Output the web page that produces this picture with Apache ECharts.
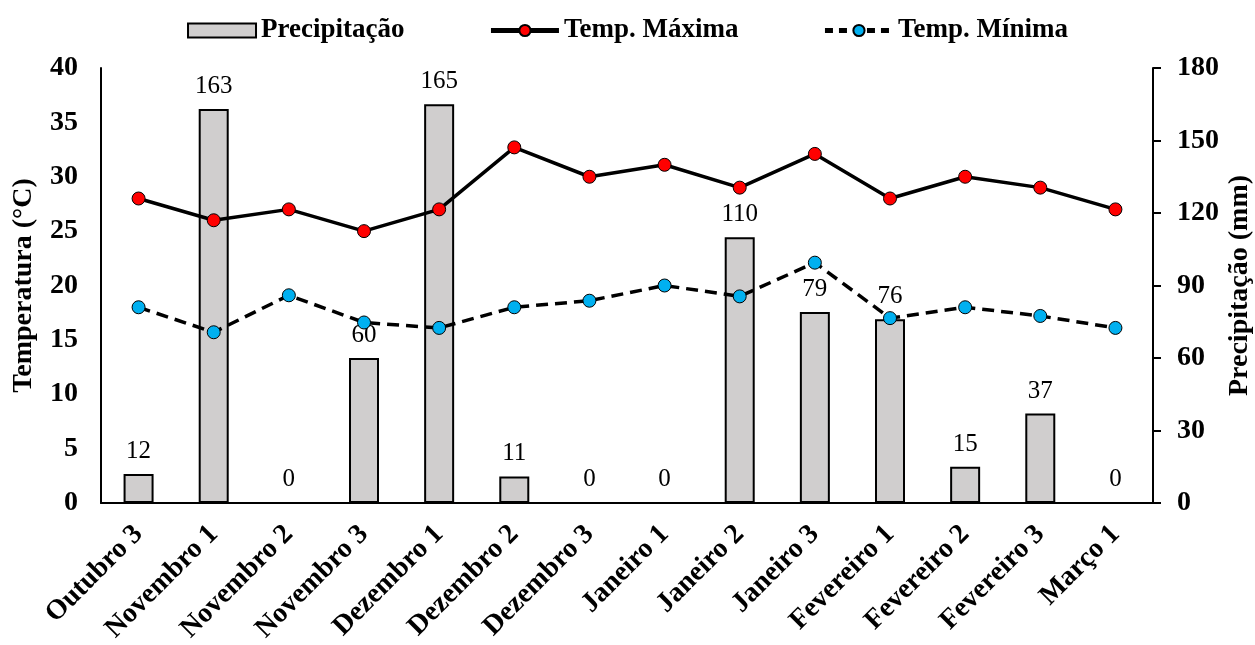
<!DOCTYPE html>
<html>
<head>
<meta charset="utf-8">
<script src="https://cdn.jsdelivr.net/npm/echarts@6/dist/echarts.min.js"></script>
<style>
html,body{margin:0;padding:0;background:#fff;}
#chart{width:1255px;height:645px;}
</style>
</head>
<body>
<div id="chart"></div>
<script>
const categories = ["Outubro 3","Novembro 1","Novembro 2","Novembro 3","Dezembro 1","Dezembro 2","Dezembro 3","Janeiro 1","Janeiro 2","Janeiro 3","Fevereiro 1","Fevereiro 2","Fevereiro 3","Março 1"];
const precipitacao = [12,163,0,60,165,11,0,0,110,79,76,15,37,0];
const tempMaxima = [28,26,27,25,27,32.7,30,31.1,29,32.1,28,30,29,27];
const tempMinima = [18,15.7,19.1,16.6,16.1,18,18.6,20,19,22.1,17,18,17.2,16.1];
const legendNames = ['Precipitação', 'Temp. Máxima', 'Temp. Mínima'];

const FONT = "'Liberation Serif','Times New Roman',serif";
const chart = echarts.init(document.getElementById('chart'));
chart.setOption({
  backgroundColor: '#fff',
  textStyle: { fontFamily: FONT, color: '#000' },
  legend: {
    top: 12,
    left: 'center',
    itemWidth: 68,
    itemHeight: 14,
    itemGap: 84,
    textStyle: { fontFamily: FONT, fontSize: 27, fontWeight: 'bold', color: '#000' },
    data: [
      { name: legendNames[0], icon: 'rect' },
      { name: legendNames[1], lineStyle: { width: 5 } },
      { name: legendNames[2], lineStyle: { width: 5, type: [8, 6] } }
    ]
  },
  grid: { left: 101, right: 102, top: 68, bottom: 142, containLabel: false, outerBoundsMode: 'none' },
  xAxis: {
    type: 'category',
    data: categories,
    axisLine: { lineStyle: { color: '#000', width: 2 } },
    axisTick: { show: false },
    axisLabel: {
      interval: 0, rotate: 45, margin: 27,
      fontFamily: FONT, fontSize: 28, fontWeight: 'bold', color: '#000'
    }
  },
  yAxis: [
    {
      type: 'value', min: 0, max: 40, interval: 5,
      name: 'Temperatura (°C)', nameLocation: 'middle', nameGap: 63, nameRotate: 90,
      nameMoveOverlap: false,
      nameTextStyle: { fontFamily: FONT, fontSize: 28, fontWeight: 'bold', color: '#000' },
      axisLine: { show: true, lineStyle: { color: '#000', width: 2 } },
      axisTick: { show: false },
      splitLine: { show: false },
      axisLabel: { margin: 23, fontFamily: FONT, fontSize: 28, fontWeight: 'bold', color: '#000' }
    },
    {
      type: 'value', min: 0, max: 180, interval: 30, position: 'right',
      name: 'Precipitação (mm)', nameLocation: 'middle', nameGap: 73, nameRotate: 90,
      nameMoveOverlap: false,
      nameTextStyle: { fontFamily: FONT, fontSize: 28, fontWeight: 'bold', color: '#000' },
      axisLine: { show: true, lineStyle: { color: '#000', width: 2 } },
      axisTick: { show: true, inside: false, length: 8, lineStyle: { color: '#000', width: 2 } },
      splitLine: { show: false },
      axisLabel: { margin: 24, fontFamily: FONT, fontSize: 28, fontWeight: 'bold', color: '#000' }
    }
  ],
  series: [
    {
      name: legendNames[0], type: 'bar', yAxisIndex: 1,
      data: precipitacao,
      barWidth: 30,
      itemStyle: { color: '#d0cece', borderColor: '#000', borderWidth: 2 },
      label: { show: true, position: 'top', distance: 10, fontFamily: FONT, fontSize: 25, color: '#000' },
      z: 1
    },
    {
      name: legendNames[1], type: 'line', yAxisIndex: 0,
      data: tempMaxima,
      symbol: 'circle', symbolSize: 13,
      lineStyle: { color: '#000', width: 3.5 },
      itemStyle: { color: '#ff0000', borderColor: '#000', borderWidth: 1 },
      z: 3
    },
    {
      name: legendNames[2], type: 'line', yAxisIndex: 0,
      data: tempMinima,
      symbol: 'circle', symbolSize: 13,
      lineStyle: { color: '#000', width: 3.5, type: [12, 7] },
      itemStyle: { color: '#00b0f0', borderColor: '#000', borderWidth: 1 },
      z: 3
    }
  ]
});
</script>
</body>
</html>
